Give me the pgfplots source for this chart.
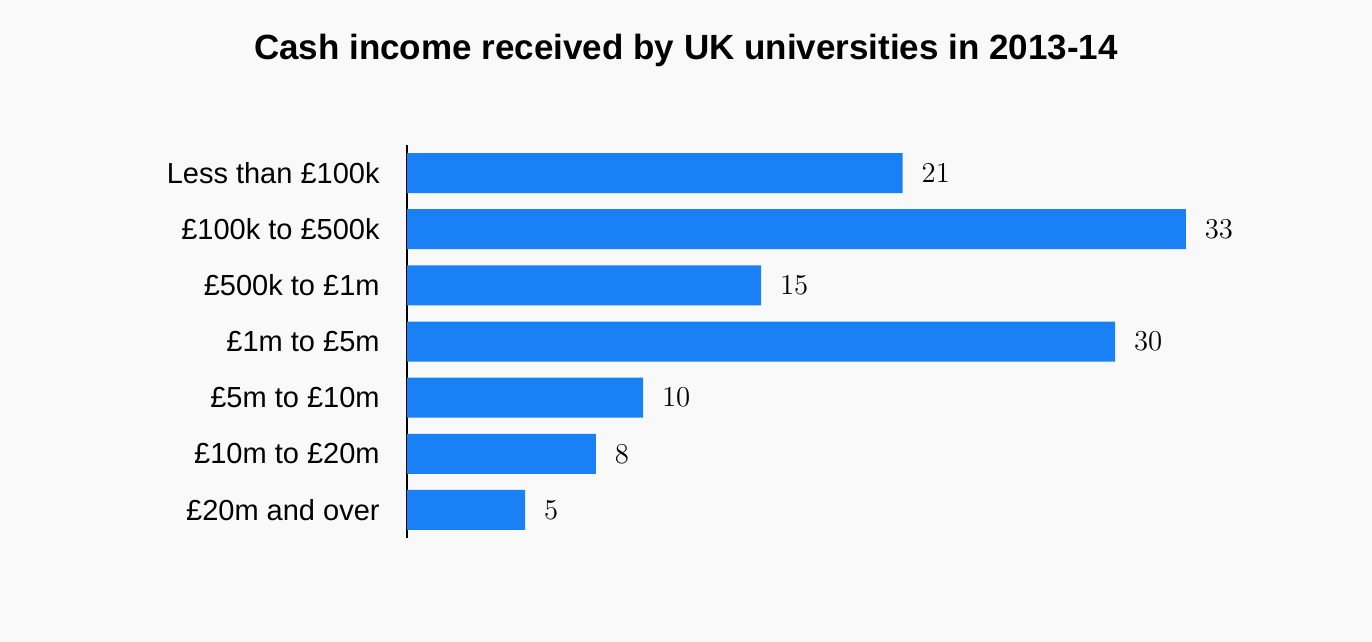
\documentclass[border=0pt]{standalone}
\usepackage{pgfplots}
\pgfplotsset{compat=1.18}
\usepackage{fontspec}
\setmainfont{Liberation Sans}
\definecolor{bg}{HTML}{F9F9F9}
\definecolor{barc}{HTML}{1A80F5}
\begin{document}
\begin{tikzpicture}
\fill[bg] (0,0) rectangle (686pt,321pt);
\node[font=\bfseries\fontsize{17.5}{20}\selectfont] at (343pt,296pt) {Cash income received by UK universities in 2013-14};
\begin{axis}[
  at={(203.5pt,52pt)}, anchor=south west,
  scale only axis, width=472pt, height=196.5pt,
  xmin=0, xmax=40, ymin=-0.5, ymax=6.5, y dir=reverse,
  axis x line=none, axis y line*=left,
  axis line style={-, black, line width=0.6pt},
  xbar, bar width=20pt,
  ytick={0,...,6}, major tick length=0pt,
  yticklabels={Less than £100k,£100k to £500k,£500k to £1m,£1m to £5m,£5m to £10m,£10m to £20m,£20m and over},
  yticklabel style={font=\fontsize{14.5}{16}\selectfont, inner sep=0pt, xshift=-13.5pt},
  nodes near coords,
  every node near coord/.append style={font=\fontsize{14.5}{16}\selectfont, xshift=6pt},
  clip=false,
]
\addplot[fill=barc, draw=none] coordinates {(21,0) (33,1) (15,2) (30,3) (10,4) (8,5) (5,6)};
\end{axis}
\end{tikzpicture}
\end{document}
